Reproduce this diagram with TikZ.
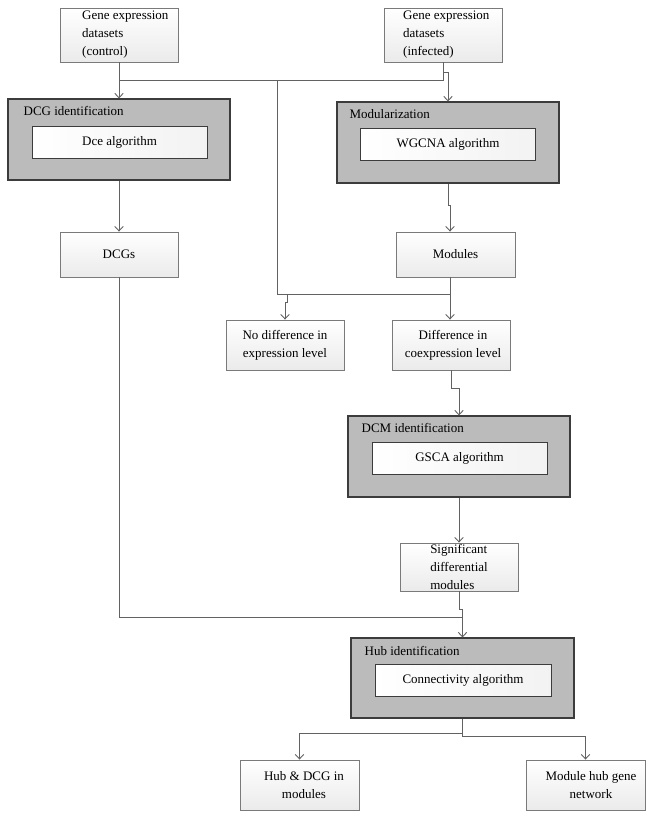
\documentclass[tikz,border=0pt]{standalone}
\usepackage{fontspec}
\setmainfont{Liberation Serif}
\usetikzlibrary{arrows.meta,calc}
\definecolor{lc}{HTML}{626262}
\definecolor{bc}{HTML}{7A7A7A}
\definecolor{gfill}{HTML}{BBBBBB}
\definecolor{gdraw}{HTML}{3C3C3C}
\begin{document}
\begin{tikzpicture}[x=1pt,y=-1pt,
  font=\fontsize{13}{18}\selectfont,
  line/.style={draw=lc, line width=0.9pt},
  arr/.style={line, -{Straight Barb[length=4.5pt,width=8.5pt]}},
  sbox/.style={draw=bc, line width=0.9pt, top color=white, bottom color=gray!16, align=center, inner sep=0pt},
  gbox/.style={draw=gdraw, line width=1.1pt, fill=gfill, minimum width=222pt, minimum height=81pt, inner sep=0pt},
  ibox/.style={draw=gdraw, line width=1pt, left color=white, right color=gray!10, minimum width=175pt, minimum height=32pt, inner sep=0pt},
  ttl/.style={anchor=west, inner sep=0pt},
  txt/.style={align=left, anchor=west, inner sep=0pt}]
\useasboundingbox (0,0) rectangle (652,819);

% top input boxes
\node[sbox, minimum width=118pt, minimum height=54pt] (ctrl) at (119,35) {};
\node[txt] (ctrlt) at (82,35) {Gene expression\\datasets\\(control)};
\node[sbox, minimum width=118pt, minimum height=54pt] (inf) at (443,35) {};
\node[txt] (inft) at (403,35) {Gene expression\\datasets\\(infected)};

% DCG identification
\node[gbox] (dcg) at (119,139.5) {};
\node[ttl] (dcgt) at ($(dcg.north west)+(16,12.5)$) {DCG identification};
\node[ibox] (dce) at (119.5,142) {Dce algorithm};

% Modularization
\node[gbox] (mod) at (448,142.5) {};
\node[ttl] (modt) at ($(mod.north west)+(13,13)$) {Modularization};
\node[ibox] (wgcna) at (448,144) {WGCNA algorithm};

% DCGs, Modules
\node[sbox, minimum width=118pt, minimum height=45pt] (dcgs) at (119,254.5) {DCGs};
\node[sbox, minimum width=119pt, minimum height=45pt] (modules) at (455.5,254.5) {Modules};

% difference boxes
\node[sbox, minimum width=118pt, minimum height=50pt] (nodiff) at (285,345) {No difference in\\expression level};
\node[sbox, minimum width=118pt, minimum height=50pt] (diff) at (451,345) {};
\node[align=center, inner sep=0pt] (difft) at (453,345) {Difference in\\coexpression level};

% DCM identification
\node[gbox] (dcm) at (459,456.5) {};
\node[ttl] (dcmt) at ($(dcm.north west)+(14,13)$) {DCM identification};
\node[ibox] (gsca) at (459.5,458) {GSCA algorithm};

% significant modules
\node[sbox, minimum width=118pt, minimum height=48pt] (sig) at (459,567) {};
\node[align=left, inner sep=0pt] (sigt) at (459,567) {Significant\\differential\\modules};

% Hub identification
\node[gbox, minimum width=223pt, minimum height=80pt] (hub) at (462.5,678) {};
\node[ttl] (hubt) at ($(hub.north west)+(14,14)$) {Hub identification};
\node[ibox, minimum width=176pt] (conn) at (463,680) {Connectivity algorithm};

% outputs
\node[sbox, minimum width=119pt, minimum height=50pt] (hubdcg) at (299.5,785) {};
\node[align=center, inner sep=0pt] (hubdcgt) at (304,785) {Hub \& DCG in\\modules};
\node[sbox, minimum width=119pt, minimum height=50pt] (modhub) at (585.5,785) {};
\node[align=center, inner sep=0pt] (modhubt) at (591,785) {Module hub gene\\network};

% junction coordinates
\coordinate (jy) at (0,80);
\coordinate (mx) at (277,0);
\coordinate (ky) at (0,294);
\coordinate (ly) at (0,617);
\coordinate (mb) at ($(modules.south)+(-5.5,0)$);
\coordinate (mt) at ($(modules.north)+(-5.5,0)$);
\coordinate (nd) at ($(nodiff.north)+(2,0)$);

% connectors
\draw[arr] (ctrl.south) -- (dcg.north);
\draw[line] (ctrl.south |- jy) -| (inf.south);
\draw[arr] (inf.south) -- ++(0,10) -| (mod.north);
\draw[line] (mx |- jy) -- (mx |- ky) -- (mb |- ky);
\draw[arr] (dcg.south) -- (dcgs.north);
\draw[arr] (mod.south) -- ++(0,22) -| (mt);
\draw[arr] (mb) -- (mb |- diff.north);
\draw[arr] (nd |- ky) -- ++(0,8) -| (nodiff.north);
\draw[arr] (diff.south) -- ++(0,18) -| (dcm.north);
\draw[arr] (dcm.south) -- (sig.north);
\draw[line] (dcgs.south) -- (dcgs.south |- ly) -- (hub.north |- ly);
\draw[arr] (sig.south) -- ++(0,18) -| (hub.north);
\draw[arr] (hub.south) -- ++(0,15) -| (hubdcg.north);
\draw[arr] (hub.south) -- ++(0,18) -| (modhub.north);
\end{tikzpicture}
\end{document}
